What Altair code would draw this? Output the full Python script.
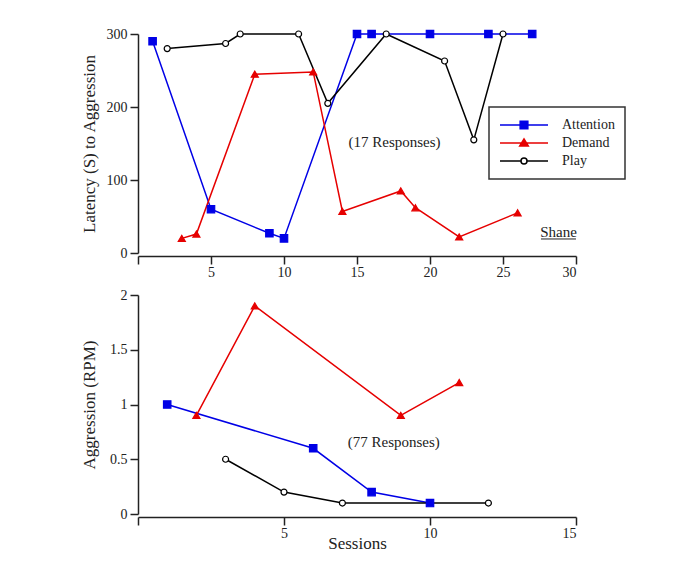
import altair as alt
import pandas as pd

# ---------------- data ----------------
conditions = ["Attention", "Demand", "Play"]

# top panel: latency (s) to aggression
lat_att_x = [1, 5, 9, 10, 15, 16, 20, 24, 27]
lat_att_y = [290, 60, 27, 20, 300, 300, 300, 300, 300]
lat_dem_x = [3, 4, 8, 12, 14, 18, 19, 22, 26]
lat_dem_y = [20, 26, 245, 248, 57, 85, 62, 22, 55]
lat_play_x = [2, 6, 7, 11, 13, 17, 21, 23, 25]
lat_play_y = [280, 287, 300, 300, 205, 300, 263, 155, 300]

# bottom panel: aggression (responses per minute)
rpm_att_x = [1, 6, 8, 10]
rpm_att_y = [1.0, 0.6, 0.2, 0.1]
rpm_dem_x = [2, 4, 9, 11]
rpm_dem_y = [0.9, 1.9, 0.9, 1.2]
rpm_play_x = [3, 5, 7, 12]
rpm_play_y = [0.5, 0.2, 0.1, 0.1]

top_x_ticks = [0, 5, 10, 15, 20, 25, 30]
top_y_ticks = [0, 100, 200, 300]
bot_x_ticks = [0, 5, 10, 15]
bot_y_ticks = [0, 0.5, 1, 1.5, 2]

top_note = ["(17 Responses)"]
top_note_x = [17.57]
top_note_y = [145]
name_text = ["Shane"]
name_x = [28.8]
name_y = [22.3]
name_line_x1 = [27.6]
name_line_x2 = [30.0]
name_line_y = [19.2]
bot_note = ["(77 Responses)"]
bot_note_x = [8.76]
bot_note_y = [0.615]

# ---------------- styles ----------------
FONT = "Liberation Serif"
INK = "#222222"
line_colors = ["#0000e6", "#e60000", "#000000"]
fill_colors = ["#0000e6", "#e60000", "#ffffff"]
marker_shapes = ["square", "triangle-up", "circle"]
marker_sizes = [55, 50, 36]
legend_paths = [
    "M-1,0H1M-0.16,-0.16H0.16V0.16H-0.16Z",
    "M-1,0H1M0,-0.17L0.18,0.13L-0.18,0.13Z",
    "M-1,0H-0.125M0.125,0H1M-0.125,0A0.125,0.125,0,1,0,0.125,0A0.125,0.125,0,1,0,-0.125,0Z",
]


def frame(xs, ys):
    rows = []
    for c, xv, yv in zip(conditions, xs, ys):
        for a, b in zip(xv, yv):
            rows.append({"cond": c, "session": a, "value": b})
    return pd.DataFrame(rows)


top_df = frame([lat_att_x, lat_dem_x, lat_play_x], [lat_att_y, lat_dem_y, lat_play_y])
bot_df = frame([rpm_att_x, rpm_dem_x, rpm_play_x], [rpm_att_y, rpm_dem_y, rpm_play_y])


def panel(df, xdom, xticks, ydom, yticks, ytitle, xtitle, yfmt, with_legend, notes):
    xaxis_kwargs = dict(
        values=xticks,
        labelExpr="datum.value == 0 ? '' : datum.label",
        offset=3,
        labelPadding=1,
    )
    if xtitle:
        xaxis_kwargs.update(title=xtitle, titleY=31, titleBaseline="alphabetic")
    else:
        xaxis_kwargs.update(title=None)
    x = alt.X("session:Q", scale=alt.Scale(domain=xdom, nice=False, zero=False),
              axis=alt.Axis(**xaxis_kwargs))
    y = alt.Y("value:Q", scale=alt.Scale(domain=ydom, nice=False),
              axis=alt.Axis(values=yticks, title=ytitle, format=yfmt, titleX=-49,
                            titleBaseline="middle", labelPadding=3))
    base = alt.Chart(df)
    layers = []
    for c, col in zip(conditions, line_colors):
        layers.append(
            base.transform_filter(alt.datum.cond == c)
            .mark_line(strokeWidth=1.5, color=col)
            .encode(x=x, y=y)
        )
    for c, col, fc, shp, sz in zip(conditions, line_colors, fill_colors, marker_shapes, marker_sizes):
        layers.append(
            base.transform_filter(alt.datum.cond == c)
            .mark_point(shape=shp, filled=True, fill=fc, stroke=col, strokeWidth=1.2,
                        size=sz, opacity=1)
            .encode(x=x, y=y)
        )
    if with_legend:
        leg = alt.Legend(title=None)
        layers.append(
            base.transform_filter("false")
            .mark_point(filled=True, opacity=1)
            .encode(
                x=x, y=y,
                shape=alt.Shape("cond:N", scale=alt.Scale(domain=conditions, range=legend_paths),
                                legend=leg),
                fill=alt.Fill("cond:N", scale=alt.Scale(domain=conditions, range=fill_colors),
                              legend=leg),
                stroke=alt.Stroke("cond:N", scale=alt.Scale(domain=conditions, range=line_colors),
                                  legend=leg),
            )
        )
    for ndf in notes:
        if "x2" in ndf.columns:
            layers.append(
                alt.Chart(ndf).mark_rule(color=INK, strokeWidth=1).encode(
                    x="x:Q", x2="x2:Q", y="y:Q")
            )
        else:
            layers.append(
                alt.Chart(ndf).mark_text(font=FONT, fontSize=15, color=INK,
                                         align="center", baseline="alphabetic").encode(
                    x="x:Q", y="y:Q", text="text:N")
            )
    return alt.layer(*layers).properties(width=438, height=219)


top_notes = [
    pd.DataFrame({"x": top_note_x, "y": top_note_y, "text": top_note}),
    pd.DataFrame({"x": name_x, "y": name_y, "text": name_text}),
    pd.DataFrame({"x": name_line_x1, "x2": name_line_x2, "y": name_line_y}),
]
bot_notes = [pd.DataFrame({"x": bot_note_x, "y": bot_note_y, "text": bot_note})]

top = panel(top_df, [0, 30], top_x_ticks, [0, 300], top_y_ticks,
            "Latency (S) to Aggression", None, "d", True, top_notes)
bottom = panel(bot_df, [0, 15], bot_x_ticks, [0, 2], bot_y_ticks,
               "Aggression (RPM)", "Sessions", "~g", False, bot_notes)

chart = (
    alt.vconcat(top, bottom, spacing=9)
    .properties(padding={"left": 71, "top": 19, "right": 5, "bottom": 5})
    .configure_view(stroke=None)
    .configure_axis(
        grid=False,
        domainColor=INK, domainWidth=1.5,
        tickColor=INK, tickWidth=1.5, tickSize=8,
        labelFont=FONT, labelFontSize=14, labelColor=INK,
        titleFont=FONT, titleFontSize=17, titleFontWeight="normal", titleColor=INK,
    )
    .configure_legend(
        orient="none", legendX=351, legendY=73,
        padding=10, strokeColor="#333333", strokeWidth=1.5, fillColor="white",
        clipHeight=16, rowPadding=2, labelOffset=13,
        labelFont=FONT, labelFontSize=14, labelColor=INK,
        symbolSize=2304, symbolStrokeWidth=1.5,
    )
)

chart.save("out.html", embed_options={"renderer": "svg", "actions": False})
